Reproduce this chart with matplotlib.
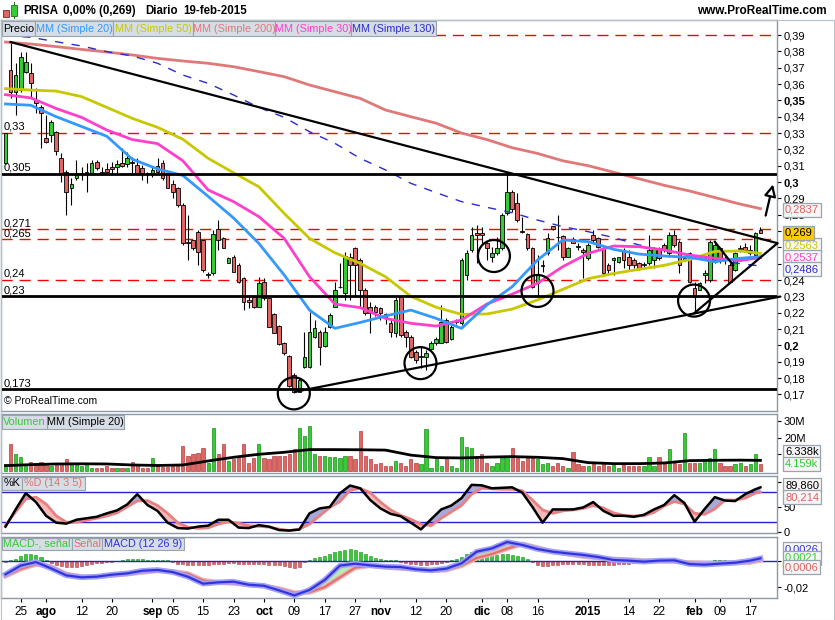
import numpy as np
import pandas as pd
import matplotlib
matplotlib.use('Agg')
import matplotlib.pyplot as plt
import matplotlib.patches as patches
from matplotlib.transforms import blended_transform_factory

W, H = 835, 620

# ---- trading days (Madrid) ----
holidays = ['2014-12-25', '2014-12-26', '2015-01-01']
days = pd.bdate_range('2014-07-22', '2015-02-19')
days = days[~days.isin(pd.to_datetime(holidays))]
idx = np.arange(len(days))

# ---- daily OHLC ----
opens = [0.3114, 0.3686, 0.3553, 0.3563, 0.3676, 0.3669, 0.3502, 0.3457, 0.3267, 0.3288,
         0.3304, 0.3144, 0.3063, 0.2961, 0.3022, 0.3053, 0.3053, 0.3053, 0.3124, 0.3063,
         0.3077, 0.3090, 0.3094, 0.3114, 0.3110, 0.3124, 0.3104, 0.3083, 0.3057, 0.3053,
         0.3098, 0.3114, 0.3053, 0.2986, 0.2961, 0.2859, 0.2634, 0.2645, 0.2696, 0.2645,
         0.2431, 0.2441, 0.2710, 0.2655, 0.2503, 0.2543, 0.2492, 0.2410, 0.2277, 0.2298,
         0.2237, 0.2390, 0.2288, 0.2192, 0.2118, 0.2016, 0.1935, 0.1818, 0.1716, 0.1865,
         0.1869, 0.2053, 0.2083, 0.1996, 0.2114, 0.2237, 0.2355, 0.2318, 0.2543, 0.2594,
         0.2522, 0.2339, 0.2237, 0.2237, 0.2226, 0.2190, 0.2135, 0.2073, 0.2298, 0.2084,
         0.2053, 0.1961, 0.1931, 0.1931, 0.1975, 0.2016, 0.2016, 0.2155, 0.2037, 0.2141,
         0.2135, 0.2431, 0.2584, 0.2690, 0.2690, 0.2625, 0.2539, 0.2567, 0.2594, 0.2808,
         0.2941, 0.2873, 0.2698, 0.2680, 0.2594, 0.2380, 0.2484, 0.2563, 0.2731, 0.2663,
         0.2669, 0.2543, 0.2649, 0.2610, 0.2584, 0.2533, 0.2676, 0.2655, 0.2594, 0.2492,
         0.2523, 0.2513, 0.2584, 0.2543, 0.2522, 0.2502, 0.2490, 0.2502, 0.2522, 0.2594,
         0.2614, 0.2563, 0.2676, 0.2635, 0.2525, 0.2567, 0.2349, 0.2339, 0.2431, 0.2400,
         0.2522, 0.2594, 0.2535, 0.2492, 0.2461, 0.2592, 0.2600, 0.2563, 0.2553, 0.2705]
highs = [0.3300, 0.3859, 0.3727, 0.3798, 0.3798, 0.3727, 0.3573, 0.3471, 0.3410, 0.3380,
         0.3312, 0.3175, 0.3073, 0.3022, 0.3134, 0.3094, 0.3114, 0.3134, 0.3134, 0.3094,
         0.3114, 0.3124, 0.3134, 0.3206, 0.3186, 0.3155, 0.3145, 0.3104, 0.3063, 0.3094,
         0.3145, 0.3134, 0.3063, 0.3012, 0.2971, 0.2869, 0.2797, 0.2645, 0.2706, 0.2645,
         0.2451, 0.2706, 0.2767, 0.2665, 0.2543, 0.2553, 0.2502, 0.2420, 0.2298, 0.2308,
         0.2420, 0.2410, 0.2298, 0.2196, 0.2124, 0.2022, 0.1941, 0.1828, 0.1798, 0.2083,
         0.2206, 0.2155, 0.2094, 0.2114, 0.2196, 0.2390, 0.2502, 0.2573, 0.2563, 0.2604,
         0.2532, 0.2349, 0.2267, 0.2247, 0.2237, 0.2200, 0.2155, 0.2298, 0.2298, 0.2094,
         0.2063, 0.1971, 0.1992, 0.1971, 0.2026, 0.2050, 0.2247, 0.2165, 0.2124, 0.2160,
         0.2532, 0.2584, 0.2727, 0.2737, 0.2727, 0.2635, 0.2604, 0.2665, 0.2808, 0.3049,
         0.2951, 0.2931, 0.2788, 0.2686, 0.2604, 0.2553, 0.2522, 0.2686, 0.2731, 0.2798,
         0.2676, 0.2604, 0.2665, 0.2625, 0.2594, 0.2625, 0.2706, 0.2665, 0.2604, 0.2502,
         0.2543, 0.2543, 0.2594, 0.2584, 0.2533, 0.2512, 0.2512, 0.2676, 0.2604, 0.2604,
         0.2624, 0.2696, 0.2706, 0.2645, 0.2543, 0.2574, 0.2390, 0.2390, 0.2461, 0.2645,
         0.2635, 0.2604, 0.2545, 0.2502, 0.2573, 0.2614, 0.2625, 0.2614, 0.2696, 0.2722]
lows = [0.3110, 0.3512, 0.3410, 0.3553, 0.3665, 0.3512, 0.3420, 0.3206, 0.3237, 0.3247,
        0.3165, 0.3002, 0.2797, 0.2859, 0.3012, 0.3012, 0.2940, 0.3043, 0.3073, 0.3043,
        0.3053, 0.3053, 0.3053, 0.3094, 0.3094, 0.3053, 0.3043, 0.3012, 0.2992, 0.3033,
        0.3053, 0.3012, 0.2961, 0.2900, 0.2849, 0.2614, 0.2522, 0.2583, 0.2492, 0.2451,
        0.2410, 0.2431, 0.2583, 0.2594, 0.2503, 0.2451, 0.2380, 0.2216, 0.2226, 0.2226,
        0.2237, 0.2278, 0.2114, 0.2073, 0.2002, 0.1941, 0.1745, 0.1706, 0.1716, 0.1859,
        0.1859, 0.2043, 0.1879, 0.1992, 0.2104, 0.2237, 0.2349, 0.2278, 0.2278, 0.2298,
        0.2237, 0.2186, 0.2073, 0.2180, 0.2155, 0.2130, 0.2053, 0.2053, 0.2053, 0.1992,
        0.1921, 0.1890, 0.1860, 0.1849, 0.1970, 0.2005, 0.2012, 0.2016, 0.2033, 0.2130,
        0.2125, 0.2400, 0.2574, 0.2502, 0.2625, 0.2522, 0.2512, 0.2553, 0.2584, 0.2798,
        0.2818, 0.2757, 0.2686, 0.2584, 0.2349, 0.2298, 0.2451, 0.2553, 0.2706, 0.2584,
        0.2522, 0.2539, 0.2625, 0.2584, 0.2410, 0.2523, 0.2635, 0.2594, 0.2431, 0.2431,
        0.2431, 0.2502, 0.2472, 0.2461, 0.2472, 0.2461, 0.2482, 0.2492, 0.2472, 0.2522,
        0.2574, 0.2543, 0.2604, 0.2441, 0.2523, 0.2380, 0.2196, 0.2339, 0.2380, 0.2390,
        0.2502, 0.2502, 0.2500, 0.2390, 0.2457, 0.2574, 0.2574, 0.2553, 0.2543, 0.2686]
closes = [0.3298, 0.3553, 0.3655, 0.3767, 0.3737, 0.3604, 0.3482, 0.3420, 0.3247, 0.3369,
          0.3190, 0.3053, 0.2940, 0.2986, 0.3053, 0.3058, 0.3063, 0.3114, 0.3083, 0.3053,
          0.3063, 0.3077, 0.3110, 0.3098, 0.3145, 0.3114, 0.3053, 0.3053, 0.3049, 0.3073,
          0.3063, 0.3022, 0.2961, 0.2940, 0.2859, 0.2624, 0.2624, 0.2594, 0.2573, 0.2461,
          0.2433, 0.2682, 0.2645, 0.2594, 0.2533, 0.2451, 0.2390, 0.2267, 0.2267, 0.2237,
          0.2379, 0.2288, 0.2114, 0.2078, 0.2008, 0.1955, 0.1751, 0.1716, 0.1788, 0.1930,
          0.2083, 0.2104, 0.1992, 0.2083, 0.2186, 0.2339, 0.2359, 0.2547, 0.2492, 0.2492,
          0.2339, 0.2196, 0.2196, 0.2206, 0.2196, 0.2170, 0.2083, 0.2277, 0.2063, 0.2053,
          0.1931, 0.1910, 0.1933, 0.1951, 0.2016, 0.2040, 0.2145, 0.2022, 0.2114, 0.2151,
          0.2522, 0.2567, 0.2676, 0.2676, 0.2676, 0.2594, 0.2567, 0.2594, 0.2798, 0.2941,
          0.2833, 0.2767, 0.2696, 0.2594, 0.2359, 0.2431, 0.2488, 0.2655, 0.2710, 0.2661,
          0.2539, 0.2594, 0.2629, 0.2600, 0.2573, 0.2614, 0.2645, 0.2604, 0.2441, 0.2461,
          0.2533, 0.2539, 0.2522, 0.2492, 0.2492, 0.2465, 0.2494, 0.2584, 0.2594, 0.2533,
          0.2584, 0.2676, 0.2614, 0.2492, 0.2537, 0.2390, 0.2298, 0.2380, 0.2441, 0.2635,
          0.2614, 0.2522, 0.2525, 0.2390, 0.2563, 0.2596, 0.2584, 0.2584, 0.2690, 0.2690]

# ---- moving averages (read every 5 sessions) ----
ma_idx = [0, 5, 10, 15, 20, 25, 30, 35, 40, 45, 50, 55, 60, 65, 70, 75, 80, 85, 90, 95,
          100, 105, 110, 115, 120, 125, 130, 135, 140, 145, 149]
ma20 = [0.3478, 0.3470, 0.3400, 0.3340, 0.3280, 0.3140, 0.3080, 0.3040, 0.2912, 0.2780,
        0.2624, 0.2431, 0.2216, 0.2104, 0.2140, 0.2180, 0.2216, 0.2165, 0.2104, 0.2247,
        0.2359, 0.2522, 0.2645, 0.2635, 0.2588, 0.2559, 0.2547, 0.2539, 0.2512, 0.2533, 0.2543]
ma50 = [0.3572, 0.3563, 0.3557, 0.3523, 0.3457, 0.3390, 0.3335, 0.3262, 0.3145, 0.3057,
        0.2971, 0.2808, 0.2655, 0.2567, 0.2502, 0.2420, 0.2300, 0.2233, 0.2190, 0.2192,
        0.2222, 0.2278, 0.2343, 0.2408, 0.2440, 0.2465, 0.2490, 0.2525, 0.2575, 0.2578, 0.2563]
ma200 = [0.3857, 0.3845, 0.3829, 0.3812, 0.3796, 0.3778, 0.3757, 0.3741, 0.3727, 0.3706,
         0.3676, 0.3645, 0.3594, 0.3553, 0.3512, 0.3441, 0.3400, 0.3360, 0.3300, 0.3260,
         0.3210, 0.3175, 0.3130, 0.3100, 0.3060, 0.3020, 0.2980, 0.2945, 0.2905, 0.2865, 0.2837]
ma30 = [0.3535, 0.3515, 0.3450, 0.3396, 0.3318, 0.3260, 0.3235, 0.3130, 0.2951, 0.2880,
        0.2788, 0.2655, 0.2420, 0.2253, 0.2231, 0.2165, 0.2135, 0.2118, 0.2155, 0.2253,
        0.2314, 0.2380, 0.2482, 0.2563, 0.2608, 0.2604, 0.2584, 0.2553, 0.2533, 0.2519, 0.2537]
ma130 = [0.3898, 0.3886, 0.3859, 0.3833, 0.3798, 0.3772, 0.3727, 0.3655, 0.3604, 0.3533,
         0.3457, 0.3396, 0.3308, 0.3237, 0.3145, 0.3074, 0.2992, 0.2935, 0.2880, 0.2845,
         0.2812, 0.2767, 0.2727, 0.2696, 0.2660, 0.2615, 0.2580, 0.2550, 0.2525, 0.2500, 0.2486]

# ---- volume (millions) and its 20-session average ----
volume = [4, 16, 10, 8.4, 4, 5.6, 5, 5.6, 4.4, 3, 3.6, 4.4, 7, 4, 4, 3, 4, 1.6, 2, 2,
          3, 1.6, 1.6, 2, 1.6, 5.6, 4, 2, 2, 7.6, 3, 2.5, 2.5, 3, 4, 15, 9, 10, 11, 14,
          5, 26, 10, 16, 6, 7, 9, 16, 5, 8, 16, 8, 7, 9, 9, 9, 10, 13, 26, 21,
          27, 10, 9, 9, 8.5, 8.5, 8, 9, 9, 7, 24, 9, 7, 4, 5, 3, 3, 6, 5, 3,
          7, 5, 4, 25, 2, 7, 3, 8, 3, 2, 20.6, 14.6, 14, 8, 10, 5, 3, 5, 8.4, 8.6,
          13.6, 8, 6, 8, 8, 7, 4, 5, 3, 5, 3, 2, 11.6, 4, 3, 3, 4, 3, 5, 3,
          4, 2, 4, 3, 3, 3, 3, 8.6, 3, 8.6, 4, 13, 5, 4, 23, 5, 5, 5, 6, 8,
          13.4, 5, 3, 3, 4, 5, 3, 4, 10.4, 4.159]
vol_ma = [3.2, 3.8, 4.2, 4.3, 4.2, 3.6, 3.3, 3.6, 6.0, 8.2, 10.0, 11.2, 12.8, 12.8, 12.7,
          12.5, 9.5, 8.0, 7.8, 8.3, 8.6, 8.2, 7.4, 5.0, 4.4, 4.4, 4.8, 6.2, 6.4, 6.5, 6.34]

# ---- stochastic %K / %D (every 2 sessions) ----
osc_idx = list(range(0, 149, 2)) + [149]
stoch_k = [9.8, 45, 78, 60, 32, 18, 16, 24, 27, 30, 37, 43, 55, 76, 54, 42, 18, 7, 6, 10,
           12, 24, 24, 8, 7, 13, 10, 3, 2, 4, 37, 47, 50, 78, 93.6, 88, 64, 47, 36, 31,
           18, 4.3, 25, 45, 53, 68, 95, 94, 88, 89, 90, 79, 50, 18, 45, 45, 45, 49, 60, 42,
           32, 32, 30, 34, 45, 54, 74, 58, 20, 46, 70, 63, 62, 76, 86, 89.86]
stoch_d = [13, 40, 66, 70, 56, 32, 19, 19, 23, 27, 31.6, 38, 50, 62, 63, 53, 37, 18, 9, 6.4,
           7.5, 15, 20, 17, 12, 10.5, 9, 5, 2, 5, 15, 32, 49, 61, 84, 88, 79, 60, 44, 33,
           25, 15, 12, 27, 40, 53, 76, 88, 87, 86, 86, 83, 64, 44, 37, 42, 44, 47, 53, 48,
           38, 33, 31.6, 32, 39, 52, 61, 56, 37, 35, 46, 64, 64, 68, 78, 80.214]

# ---- MACD (12 26 9), signal (every 3 sessions), histogram (daily), in 1e-3 ----
macd_idx = list(range(0, 148, 3)) + [149]
macd = [-10.1, -3.5, -0.8, -5.6, -10.9, -12.4, -11.9, -10.4, -9.4, -7.4, -6.8, -8.4, -11.9,
        -17.2, -16.2, -15.7, -18.0, -18.8, -22.3, -26.1, -22.0, -14.4, -3.5, -2.0, -3.3,
        -4.3, -4.6, -6.3, -7.1, -5.8, -1.8, 7.1, 9.6, 14.4, 12.2, 9.1, 7.1, 5.8, 4.6, 3.0,
        0.8, 0.3, -0.5, 0.3, 0.5, -2.3, -2.8, -2.0, -1.3, 0.3, 2.0]
signal = [-11.4, -6.1, -2.5, -4.3, -9.9, -11.9, -11.9, -10.9, -9.9, -8.6, -7.4, -7.9, -9.6,
          -14.7, -16.2, -17.0, -18.0, -19.0, -21.0, -24.1, -23.8, -19.8, -12.4, -5.1, -3.5,
          -4.6, -5.6, -6.3, -7.4, -6.8, -3.5, 2.3, 5.3, 9.4, 12.9, 10.1, 7.1, 5.3, 3.5, 2.3,
          1.5, 1.0, 0.3, 0.0, -0.3, -1.3, -1.8, -1.8, -1.5, -1.0, 0.6]
hist = [-1.0, 0.8, 1.5, 3.8, 5.0, 5.0, 4.2, 2.8, 0.8, -1.8, -3.0, -3.8, -4.8, -4.8, -4.3,
        -3.8, -3.0, -2.5, -1.8, -1.3, -0.9, -0.6, -0.3, 0.8, 1.2, 1.3, 1.3, 1.2, 1.0, 1.0,
        0.9, 0.8, 0.7, -0.5, -2.0, -2.5, -3.0, -3.0, -3.0, -3.0, -2.8, -2.5, -2.2, -2.0, -1.8,
        -1.8, -2.0, -2.3, -2.5, -2.5, -2.5, -2.6, -2.8, -3.0, -3.4, -3.8, -4.5, -5.0, -4.5, -1.0,
        0.8, 2.0, 2.8, 3.8, 5.3, 6.5, 7.5, 8.5, 9.1, 8.3, 7.0, 5.5, 3.5, 2.0, 1.3,
        1.0, 0.8, 0.5, -0.5, -1.3, -2.0, -2.5, -3.0, -3.0, -2.5, -2.0, -1.5, -0.8, 0.8, 1.8,
        3.0, 5.3, 7.0, 7.9, 7.9, 7.0, 6.0, 4.8, 5.0, 5.3, 4.5, 3.8, 2.8, 1.2, -1.0,
        -3.0, -3.8, -3.5, -3.0, -2.8, -2.5, -2.3, -2.3, -2.5, -2.5, -2.8, -3.0, -3.0, -3.0, -2.8,
        -2.8, -2.5, -2.3, -2.0, -1.8, -1.5, -1.3, -0.8, -0.5, -0.3, 0.3, 0.5, 0.3, 0.2, -0.3,
        -1.0, -1.5, -1.5, -1.0, -0.3, 0.5, 0.8, 0.5, 0.3, 0.5, 0.8, 1.0, 1.2, 1.3, 2.1]

# ---- drawn levels / trend lines / circles ----
red_levels = [0.39, 0.33, 0.271, 0.265, 0.24]
black_levels = [0.305, 0.23, 0.173]
level_labels = {0.33: '0,33', 0.305: '0,305', 0.271: '0,271', 0.265: '0,265',
                0.24: '0,24', 0.23: '0,23', 0.173: '0,173'}
trend_lines = [((1.0, 0.3857), (152.3, 0.2626)),
               ((57.2, 0.1716), (152.8, 0.2298)),
               ((135.9, 0.2196), (152.3, 0.2624)),
               ((140.0, 0.2634), (143.6, 0.2492))]
circles = [(56.9, 0.1706), (81.9, 0.1891), (96.4, 0.2547), (105.0, 0.2333), (135.9, 0.2274)]

tick_dates = ['2014-07-25', '2014-08-01', '2014-08-12', '2014-08-20', '2014-09-01',
              '2014-09-05', '2014-09-15', '2014-09-23', '2014-10-01', '2014-10-09',
              '2014-10-17', '2014-10-27', '2014-11-03', '2014-11-12', '2014-11-20',
              '2014-12-01', '2014-12-08', '2014-12-16', '2015-01-02', '2015-01-14',
              '2015-01-22', '2015-02-02', '2015-02-09', '2015-02-17']
tick_labels = ['25', 'ago', '12', '20', 'sep', '05', '15', '23', 'oct', '09', '17', '27',
               'nov', '12', '20', 'dic', '08', '16', '2015', '14', '22', 'feb', '09', '17']
month_labels = {'ago', 'sep', 'oct', 'nov', 'dic', '2015', 'feb'}

GREEN, RED = '#33CC33', '#E06666'
C20, C50, C200, C30, C130 = '#3399FF', '#C8C800', '#E07878', '#FF3FCC', '#2B2BCC'
SPINE = '#8E99A5'

plt.rcParams['font.family'] = ['Liberation Sans', 'DejaVu Sans']

fig = plt.figure(figsize=(W / 100, H / 100), dpi=100)
fig.patch.set_facecolor('white')


def add_panel(top, bottom, x0=0.5, x1=777):
    a = fig.add_axes([x0 / W, 1 - bottom / H, (x1 - x0) / W, (bottom - top) / H])
    a.set_xlim(-0.99, 152.27)
    a.set_facecolor('white')
    for s in a.spines.values():
        s.set_color(SPINE)
        s.set_linewidth(1)
    a.yaxis.tick_right()
    a.tick_params(axis='y', direction='out', length=3, width=0.8, labelsize=8, pad=2, colors='black')
    a.tick_params(axis='x', bottom=False, labelbottom=False)
    return a


ax = add_panel(20, 411)
axv = add_panel(414, 473)
axs = add_panel(476, 533)
axm = add_panel(537, 598)

# ---- price panel ----
ax.set_ylim(0.1598, 0.3992)
o, c = np.array(opens), np.array(closes)
up = c >= o
body_lo = np.minimum(o, c)
body_h = np.maximum(np.abs(c - o), 0.0005)
cols = np.where(up, GREEN, RED)
ax.vlines(idx, lows, highs, color='black', lw=0.8, zorder=3)
ax.bar(idx, body_h, 0.72, bottom=body_lo, color=cols, edgecolor='black', lw=0.6, zorder=4)

ax.plot(ma_idx, ma200, color=C200, lw=2, zorder=5)
ax.plot(ma_idx, ma130, color=C130, lw=1, ls=(0, (6, 6)), zorder=5)
ax.plot(ma_idx, ma50, color=C50, lw=2, zorder=5)
ax.plot(ma_idx, ma30, color=C30, lw=2, zorder=5)
ax.plot(ma_idx, ma20, color=C20, lw=2, zorder=5)

trans = blended_transform_factory(ax.transAxes, ax.transData)
for lv in red_levels:
    ax.axhline(lv, color='#FF0000', lw=1, ls=(0, (8, 5)), zorder=2)
for lv in black_levels:
    ax.axhline(lv, color='black', lw=2, zorder=6)
for lv, txt in level_labels.items():
    ax.text(0.004, lv + 0.0007, txt, transform=trans, fontsize=8, va='bottom', ha='left', zorder=7)

for (x1, y1), (x2, y2) in trend_lines:
    ax.plot([x1, x2], [y1, y2], color='black', lw=1.6, zorder=6, clip_on=False)

rx, ry = 16 / 5.07, 16 / 1633
for cx, cy in circles:
    ax.add_patch(patches.Ellipse((cx, cy), 2 * rx, 2 * ry, fill=False, ec='black', lw=1.6, zorder=7))

ax.annotate('', xy=(151.6, 0.3002), xytext=(149.9, 0.2778),
            arrowprops=dict(arrowstyle='-|>,head_length=0.7,head_width=0.35', fc='white', ec='black', lw=1.6),
            zorder=7)

ax.text(0.004, 0.012, '\u00a9 ProRealTime.com', transform=ax.transAxes, fontsize=7.5, va='bottom')

pticks = np.round(np.arange(0.17, 0.395, 0.01), 2)
ax.set_yticks(pticks)
ax.set_yticklabels([(f'{v:.2f}'.rstrip('0')).replace('.', ',') for v in pticks])
for lab, v in zip(ax.get_yticklabels(), pticks):
    if v in (0.35, 0.3, 0.2):
        lab.set_fontweight('bold')

# ---- volume panel ----
axv.set_ylim(-1.2, 34.1)
vcols = np.where(up, GREEN, RED)
vedge = np.where(up, '#1E8E1E', '#B04040')
axv.bar(idx, volume, 0.65, color=vcols, edgecolor=vedge, lw=0.5, zorder=3)
axv.plot(ma_idx, vol_ma, color='black', lw=2, zorder=4)
axv.set_yticks([10, 20, 30])
axv.set_yticklabels(['10M', '20M', '30M'])

# ---- stochastic panel ----
axs.set_ylim(-3, 113)
sk, sd = np.array(stoch_k), np.array(stoch_d)
axs.fill_between(osc_idx, sk, sd, where=sk >= sd, interpolate=True, color='#A9A9D9', lw=0)
axs.fill_between(osc_idx, sk, sd, where=sk < sd, interpolate=True, color='#F5B9B9', lw=0)
axs.axhline(80, color='#2222CC', lw=1, zorder=2)
axs.axhline(20, color='#2222CC', lw=1, zorder=2)
axs.plot(osc_idx, sd, color='#E88080', lw=2, zorder=3)
axs.plot(osc_idx, sk, color='black', lw=1.8, zorder=4)
axs.set_yticks([0, 50, 100])
axs.set_yticklabels(['0', '50', '100'])

# ---- MACD panel ----
axm.set_ylim(-28.1, 18.25)
mc, sg = np.array(macd), np.array(signal)
hcols = np.where(np.array(hist) >= 0, GREEN, RED)
hedge = np.where(np.array(hist) >= 0, '#1E8E1E', '#B04040')
axm.bar(idx, hist, 0.6, color=hcols, edgecolor=hedge, lw=0.4, zorder=2)
axm.fill_between(macd_idx, mc, sg, where=mc >= sg, interpolate=True, color='#B5EFB0', lw=0, zorder=3)
axm.fill_between(macd_idx, mc, sg, where=mc < sg, interpolate=True, color='#F5B9B9', lw=0, zorder=3)
axm.axhline(0, color='#2222CC', lw=1, zorder=4)
axm.plot(macd_idx, sg, color='#F0B0B0', lw=3.5, zorder=5)
axm.plot(macd_idx, sg, color='#E07070', lw=1.5, zorder=5)
axm.plot(macd_idx, mc, color='#A0A0F8', lw=4, zorder=6)
axm.plot(macd_idx, mc, color='#3333DD', lw=1.6, zorder=6)
axm.set_yticks([-20, 0])
axm.set_yticklabels(['-0,02', '0'])

tick_pos = [int(np.where(days == pd.Timestamp(d))[0][0]) for d in tick_dates]
axm.set_xticks(tick_pos)
axm.set_xticklabels(tick_labels)
axm.tick_params(axis='x', bottom=True, labelbottom=True, direction='out', length=3,
                width=0.8, labelsize=8.5, pad=3, colors='black')
for lab in axm.get_xticklabels():
    if lab.get_text() in month_labels:
        lab.set_fontweight('bold')


# ---- strips, header, value boxes (figure pixels) ----
def fx(x):
    return x / W


def fy(y):
    return 1 - y / H


def strip(y0, y1, items):
    for txt, col, x0, x1 in items:
        fig.add_artist(patches.Rectangle((fx(x0), fy(y1)), fx(x1) - fx(x0), fy(y0) - fy(y1),
                                         transform=fig.transFigure, fc='#D6DDE4', ec='#98A4B0',
                                         lw=0.8, zorder=10))
        fig.text(fx((x0 + x1) / 2), fy((y0 + y1) / 2), txt, color=col, fontsize=7.8,
                 ha='center', va='center', zorder=11)


strip(21, 36, [('Precio', 'black', 2, 35), ('MM (Simple 20)', C20, 35, 113),
               ('MM (Simple 50)', C50, 113, 193), ('MM (Simple 200)', C200, 193, 275),
               ('MM (Simple 30)', C30, 275, 351), ('MM (Simple 130)', C130, 351, 436)])
strip(415, 429, [('Volumen', GREEN, 2, 47), ('MM (Simple 20)', 'black', 47, 124)])
strip(477, 490, [('%K', 'black', 2, 22), ('%D (14 3 5)', '#E07070', 22, 85)])
strip(538, 550, [('MACD-, señal', GREEN, 2, 72), ('Señal', '#E07070', 72, 102),
                 ('MACD (12 26 9)', '#3333DD', 102, 184)])


def vbox(y, txt, col, fc='#F6F6F6'):
    fig.text(fx(785), fy(y), txt, color=col, fontsize=8, ha='left', va='center', zorder=12,
             bbox=dict(boxstyle='square,pad=0.15', fc=fc, ec='#98A4B0', lw=0.9))


vbox(210, '0,2837', '#E06060')
vbox(245, '0,2563', C50)
vbox(257, '0,2537', C30)
vbox(269, '0,2486', C130)
vbox(233, '0,269', 'black', fc='#FFCC00')
vbox(452, '6.338k', 'black')
vbox(464, '4.159k', GREEN)
vbox(485, '89,860', 'black')
vbox(497, '80,214', '#E06060')
vbox(549, '0,0026', '#3333DD')
vbox(558, '0,0021', GREEN)
vbox(567, '0,0006', '#E06060')

# header
fig.add_artist(patches.Rectangle((fx(3), fy(17)), fx(6), fy(10) - fy(17), transform=fig.transFigure,
                                 fc=RED, ec='#802020', lw=0.6))
fig.add_artist(patches.Rectangle((fx(11), fy(16)), fx(6), fy(5) - fy(16), transform=fig.transFigure,
                                 fc=GREEN, ec='#207020', lw=0.6))
fig.add_artist(patches.Rectangle((fx(13.5), fy(19)), fx(1), fy(2) - fy(19), transform=fig.transFigure,
                                 fc='#207020', lw=0, zorder=0))
for txt, xp in [('PRISA', 23), ('0,00% (0,269)', 63), ('Diario', 145), ('19-feb-2015', 183)]:
    fig.text(fx(xp), fy(11), txt, fontsize=8.3, fontweight='bold', va='center', ha='left')
fig.text(fx(827), fy(11), 'www.ProRealTime.com', fontsize=8.5, fontweight='bold',
         va='center', ha='right')
fig.add_artist(patches.Rectangle((fx(0.5), fy(619.5)), fx(833), fy(20) - fy(619.5),
                                 transform=fig.transFigure, fill=False, ec='#B8C0C8', lw=0.8))

fig.savefig('out.png', dpi=100)
